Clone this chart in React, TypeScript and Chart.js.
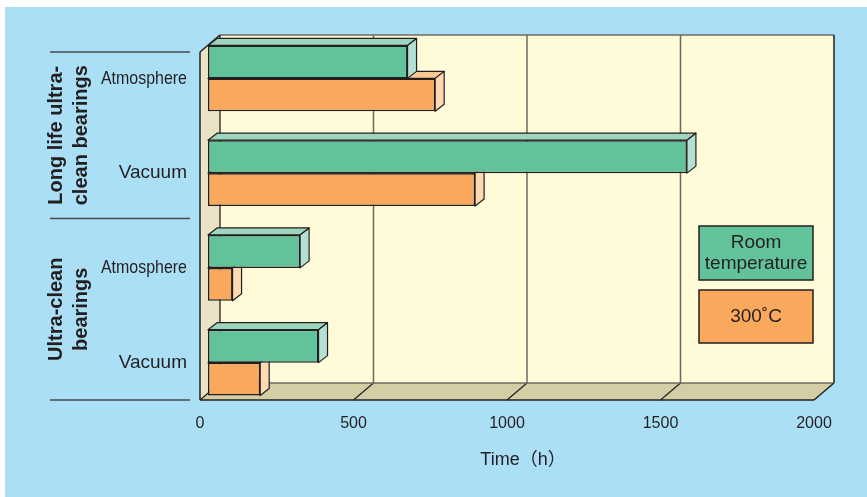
import React, { useEffect, useRef } from 'react';
import { Chart, registerables } from 'chart.js';

Chart.register(...registerables);

// ---------- data ----------
const CATEGORY_LABELS = ['Atmosphere', 'Vacuum', 'Atmosphere', 'Vacuum'];
const GROUP_LABELS = [
  ['Long life ultra-', 'clean bearings'],
  ['Ultra-clean', 'bearings'],
];
const GROUP_SIZES = [2, 2];
const ROOM_TEMPERATURE_HOURS = [650, 1560, 300, 360];
const HOT_300C_HOURS = [740, 870, 80, 170];
const SERIES_LABELS = ['Room\ntemperature', '300˚C'];
const X_TICKS = [0, 500, 1000, 1500, 2000];
const X_TITLE = 'Time（h）';

// ---------- style ----------
const FONT = "'Liberation Sans', Arial, 'Noto Sans CJK JP', sans-serif";
const INK = '#231f20';
const BLUE = '#aadff6';
const WALL_BACK = '#fffad7';
const WALL_SIDE = '#e9e3c4';
const FLOOR = '#d3cea3';
const GRID = '#6d6a66';
const FRONT_COLORS = ['#62c39b', '#f9a85e'];
const TOP_COLORS = ['#9dd5bf', '#fbc792'];
const SIDE_COLORS = ['#b3e0d3', '#fed9b2'];

const DEPTH_X = 20; // wall depth
const DEPTH_Y = 17;
const BAR_PLANE = 0.4; // bar front plane as fraction of wall depth
const BAR_DX = 9; // bar depth
const BAR_DY = 7;

function poly(ctx: CanvasRenderingContext2D, pts: number[][], fill: string | null, stroke: string | null, lw = 1.2) {
  ctx.beginPath();
  ctx.moveTo(pts[0][0], pts[0][1]);
  for (let i = 1; i < pts.length; i++) ctx.lineTo(pts[i][0], pts[i][1]);
  ctx.closePath();
  if (fill) {
    ctx.fillStyle = fill;
    ctx.fill();
  }
  if (stroke) {
    ctx.strokeStyle = stroke;
    ctx.lineWidth = lw;
    ctx.lineJoin = 'round';
    ctx.stroke();
  }
}

function line(ctx: CanvasRenderingContext2D, x1: number, y1: number, x2: number, y2: number, color: string, lw: number) {
  ctx.beginPath();
  ctx.moveTo(x1, y1);
  ctx.lineTo(x2, y2);
  ctx.strokeStyle = color;
  ctx.lineWidth = lw;
  ctx.stroke();
}

function geometry(chart: any) {
  const a = chart.chartArea;
  const xs = chart.scales.x;
  const fx = (v: number) => xs.getPixelForValue(v) - BAR_PLANE * DEPTH_X;
  return {
    a,
    fx,
    x0: fx(xs.min),
    x1: fx(xs.max),
    yT: a.top + 21,
    yB: a.bottom - 10,
  };
}

const scenePlugin = {
  id: 'scene3d',
  beforeDraw(chart: any) {
    const { ctx, width, height } = chart;
    const { a, fx, x0, x1, yT, yB } = geometry(chart);
    ctx.save();
    ctx.fillStyle = '#ffffff';
    ctx.fillRect(0, 0, width, height);
    ctx.fillStyle = BLUE;
    ctx.fillRect(5, 7, width - 5, height - 7);

    // back wall
    ctx.fillStyle = WALL_BACK;
    ctx.fillRect(x0 + DEPTH_X, yT - DEPTH_Y, x1 - x0, yB - yT);
    // side wall
    poly(ctx, [[x0, yT], [x0 + DEPTH_X, yT - DEPTH_Y], [x0 + DEPTH_X, yB - DEPTH_Y], [x0, yB]], WALL_SIDE, null);
    // floor
    poly(ctx, [[x0, yB], [x0 + DEPTH_X, yB - DEPTH_Y], [x1 + DEPTH_X, yB - DEPTH_Y], [x1, yB]], FLOOR, null);

    // grid lines on back wall and floor
    X_TICKS.slice(1, -1).forEach((v) => {
      const x = fx(v);
      line(ctx, x + DEPTH_X, yT - DEPTH_Y, x + DEPTH_X, yB - DEPTH_Y, GRID, 1.5);
      line(ctx, x, yB, x + DEPTH_X, yB - DEPTH_Y, INK, 1.2);
    });

    // edges
    line(ctx, x0 + DEPTH_X, yT - DEPTH_Y, x1 + DEPTH_X, yT - DEPTH_Y, GRID, 1.5);
    line(ctx, x1 + DEPTH_X, yT - DEPTH_Y, x1 + DEPTH_X, yB - DEPTH_Y, INK, 1.5);
    line(ctx, x0 + DEPTH_X, yT - DEPTH_Y, x0 + DEPTH_X, yB - DEPTH_Y, INK, 1.3);
    line(ctx, x0 + DEPTH_X, yB - DEPTH_Y, x1 + DEPTH_X, yB - DEPTH_Y, GRID, 1.3);
    line(ctx, x0, yT, x0 + DEPTH_X, yT - DEPTH_Y, INK, 1.5);
    line(ctx, x0, yT, x0, yB, INK, 1.5);
    line(ctx, x0, yB, x1, yB, INK, 1.5);
    line(ctx, x1, yB, x1 + DEPTH_X, yB - DEPTH_Y, INK, 1.5);
    line(ctx, x0, yB, x0 + DEPTH_X, yB - DEPTH_Y, INK, 1.2);

    // group separators and labels
    const ys = chart.scales.y;
    const seps = [yT];
    let idx = 0;
    GROUP_SIZES.forEach((n, g) => {
      idx += n;
      if (g < GROUP_SIZES.length - 1) {
        seps.push((ys.getPixelForValue(idx - 1) + ys.getPixelForValue(idx)) / 2 - 2);
      }
    });
    seps.push(yB);
    seps.forEach((y) => line(ctx, 50, y, 190, y, '#4a4a4a', 1.5));

    ctx.fillStyle = INK;
    ctx.font = `bold 20px ${FONT}`;
    ctx.textAlign = 'center';
    ctx.textBaseline = 'middle';
    GROUP_LABELS.forEach((lines, g) => {
      const cy = (seps[g] + seps[g + 1]) / 2;
      lines.forEach((txt, li) => {
        ctx.save();
        ctx.translate(56 + li * 25, cy);
        ctx.rotate(-Math.PI / 2);
        ctx.fillText(txt, 0, 0);
        ctx.restore();
      });
    });

    // category labels (Atmosphere set condensed, as in the original)
    ctx.textAlign = 'right';
    ctx.font = `19px ${FONT}`;
    const labelRight = a.left - 21;
    (chart.data.labels as string[]).forEach((lab, i) => {
      const y = ys.getPixelForValue(i);
      const narrow = i % 2 === 0;
      ctx.save();
      ctx.translate(labelRight, y);
      if (narrow) ctx.scale(0.84, 1);
      ctx.fillText(lab, 0, 0);
      ctx.restore();
    });
    ctx.restore();
  },
  beforeDatasetsDraw(chart: any) {
    const { ctx } = chart;
    ctx.save();
    for (let d = chart.data.datasets.length - 1; d >= 0; d--) {
      const meta = chart.getDatasetMeta(d);
      meta.data.forEach((bar: any) => {
        const { x, y, base, height } = bar.getProps(['x', 'y', 'base', 'height'], true);
        const t = y - height / 2;
        const b = y + height / 2;
        poly(ctx, [[base, t], [base + BAR_DX, t - BAR_DY], [x + BAR_DX, t - BAR_DY], [x, t]], TOP_COLORS[d], INK);
        poly(ctx, [[x, t], [x + BAR_DX, t - BAR_DY], [x + BAR_DX, b - BAR_DY], [x, b]], SIDE_COLORS[d], INK);
      });
    }
    ctx.restore();
  },
  afterDraw(chart: any) {
    const { ctx } = chart;
    const a = chart.chartArea;
    ctx.save();
    // legend
    const right = a.right - 9;
    const w = 114;
    const boxes = [
      { top: a.top + 195, h: 54 },
      { top: a.top + 259, h: 53 },
    ];
    ctx.font = `19px ${FONT}`;
    ctx.textAlign = 'center';
    ctx.textBaseline = 'middle';
    chart.data.datasets.forEach((ds: any, i: number) => {
      const bx = boxes[i];
      ctx.fillStyle = ds.backgroundColor;
      ctx.fillRect(right - w, bx.top, w, bx.h);
      ctx.strokeStyle = INK;
      ctx.lineWidth = 1.5;
      ctx.strokeRect(right - w, bx.top, w, bx.h);
      const lines = String(ds.label).split('\n');
      ctx.fillStyle = INK;
      const lh = 21;
      const cy = bx.top + bx.h / 2 - ((lines.length - 1) * lh) / 2;
      lines.forEach((t, li) => ctx.fillText(t, right - w / 2, cy + li * lh));
    });
    // axis title
    ctx.font = `18px ${FONT}`;
    ctx.fillText(X_TITLE, (a.left + a.right) / 2 + 8, 460);
    ctx.restore();
  },
};

export default function App() {
  const ref = useRef<HTMLCanvasElement>(null);
  useEffect(() => {
    if (!ref.current) return;
    const chart = new Chart(ref.current, {
      type: 'bar',
      data: {
        labels: CATEGORY_LABELS,
        datasets: [
          {
            label: SERIES_LABELS[0],
            data: ROOM_TEMPERATURE_HOURS,
            backgroundColor: FRONT_COLORS[0],
            borderColor: INK,
            borderWidth: 1.5,
            borderSkipped: false,
            categoryPercentage: 0.696,
            barPercentage: 1,
          },
          {
            label: SERIES_LABELS[1],
            data: HOT_300C_HOURS,
            backgroundColor: FRONT_COLORS[1],
            borderColor: INK,
            borderWidth: 1.5,
            borderSkipped: false,
            categoryPercentage: 0.696,
            barPercentage: 1,
          },
        ],
      },
      options: {
        animation: false,
        responsive: false,
        indexAxis: 'y',
        layout: { padding: { left: 0, right: 45, top: 31, bottom: 57 } },
        plugins: { legend: { display: false }, tooltip: { enabled: false } },
        scales: {
          x: {
            type: 'linear',
            position: 'bottom',
            min: 0,
            max: 2000,
            afterBuildTicks: (s: any) => {
              s.ticks = X_TICKS.map((v) => ({ value: v }));
            },
            afterFit: (s: any) => {
              s.height = 30;
            },
            grid: { display: false, drawTicks: false },
            border: { display: false },
            ticks: {
              labelOffset: -8,
              padding: 4,
              color: INK,
              maxRotation: 0,
              font: { family: FONT, size: 16 },
              callback: (v: any) => String(v),
            },
          },
          y: {
            type: 'category',
            afterFit: (s: any) => {
              s.width = 208;
            },
            grid: { display: false, drawTicks: false },
            border: { display: false },
            ticks: { display: false },
          },
        },
      },
      plugins: [scenePlugin],
    } as any);
    return () => chart.destroy();
  }, []);
  return (
    <div style={{ position: 'absolute', left: 0, top: 0, width: 867, height: 497, overflow: 'hidden' }}>
      <canvas ref={ref} width={867} height={497} style={{ display: 'block', width: 867, height: 497 }} />
    </div>
  );
}
